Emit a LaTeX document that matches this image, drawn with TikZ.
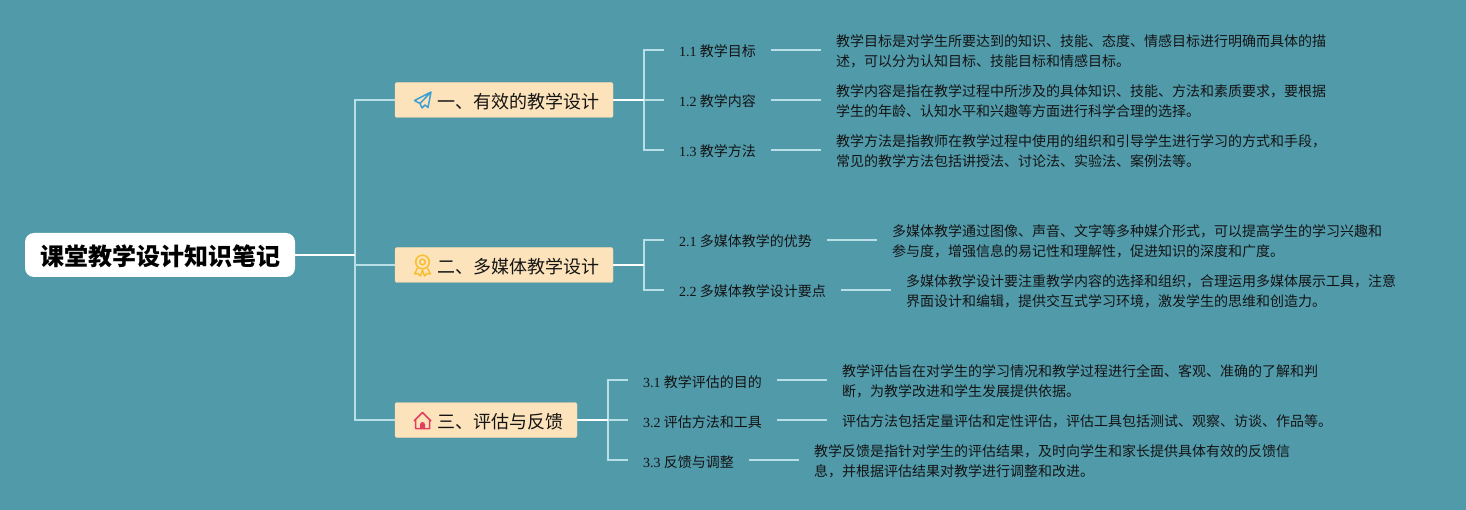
\documentclass[tikz,border=0pt]{standalone}
\usepackage{fontspec}
\setmainfont{Noto Sans CJK SC}
\newfontfamily\numfont{Liberation Serif}
\usepackage{xcolor}
\definecolor{bgteal}{HTML}{509AAA}
\definecolor{boxfill}{HTML}{FDE3BC}
\definecolor{boxedge}{HTML}{EFD3A6}
\definecolor{linelight}{HTML}{B9DFE6}
\definecolor{inktext}{HTML}{141414}
\definecolor{planeblue}{HTML}{3E9FD2}
\definecolor{medalgold}{HTML}{F6BE30}
\definecolor{homered}{HTML}{E0405F}
\tikzset{
	rootnode/.style={fill=white,rounded corners=9pt,minimum width=270pt,minimum height=44pt,inner sep=0pt,text height=27pt,text depth=5pt,font=\fontsize{24}{28}\selectfont\bfseries,text=black},
	topicnode/.style={fill=boxfill,draw=boxedge,rounded corners=1.5pt,minimum height=35pt,inner sep=0pt,text height=21pt,text depth=4pt,font=\fontsize{18}{22}\selectfont,text=inktext},
	labelnode/.style={anchor=west,inner xsep=15pt,inner ysep=0pt,text height=17pt,text depth=3pt,font=\fontsize{14}{20}\selectfont,text=inktext},
	notenode/.style={anchor=west,inner xsep=15pt,inner ysep=0pt,align=left,font=\fontsize{14}{20}\selectfont,text=inktext},
	branchline/.style={draw=linelight,line width=1.1pt},
	mainline/.style={draw=white,line width=1.4pt}
}
\begin{document}
\begin{tikzpicture}[x=1pt,y=-1pt]
	\fill[bgteal] (0,0) rectangle (1466,510);
	% root and topics
	\node[rootnode] (root) at (160,255) {课堂教学设计知识笔记};
	\node[topicnode,minimum width=218pt] (topica) at (504,100) {\hspace*{28pt}一、有效的教学设计};
	\node[topicnode,minimum width=218pt] (topicb) at (504,265) {\hspace*{28pt}二、多媒体教学设计};
	\node[topicnode,minimum width=182pt] (topicc) at (486,420) {\hspace*{28pt}三、评估与反馈};
	\coordinate (trunk) at (355,255);
	\coordinate (forka) at (644,100);
	\coordinate (forkb) at (644,265);
	\coordinate (forkc) at (608,420);
	% first group
	\node[labelnode] (la) at (664,50) {{\numfont 1.1} 教学目标};
	\node[labelnode] (lb) at (664,100) {{\numfont 1.2} 教学内容};
	\node[labelnode] (lc) at (664,150) {{\numfont 1.3} 教学方法};
	\node[notenode] (na) at (821,51.5) {教学目标是对学生所要达到的知识、技能、态度、情感目标进行明确而具体的描\\述，可以分为认知目标、技能目标和情感目标。};
	\node[notenode] (nb) at (821,101.5) {教学内容是指在教学过程中所涉及的具体知识、技能、方法和素质要求，要根据\\学生的年龄、认知水平和兴趣等方面进行科学合理的选择。};
	\node[notenode] (nc) at (821,151.5) {教学方法是指教师在教学过程中使用的组织和引导学生进行学习的方式和手段，\\常见的教学方法包括讲授法、讨论法、实验法、案例法等。};
	% second group
	\node[labelnode] (ld) at (664,240) {{\numfont 2.1} 多媒体教学的优势};
	\node[labelnode] (le) at (664,290) {{\numfont 2.2} 多媒体教学设计要点};
	\node[notenode] (nd) at (877,241.5) {多媒体教学通过图像、声音、文字等多种媒介形式，可以提高学生的学习兴趣和\\参与度，增强信息的易记性和理解性，促进知识的深度和广度。};
	\node[notenode] (ne) at (891,291.5) {多媒体教学设计要注重教学内容的选择和组织，合理运用多媒体展示工具，注意\\界面设计和编辑，提供交互式学习环境，激发学生的思维和创造力。};
	% third group
	\node[labelnode] (lf) at (628,380) {{\numfont 3.1} 教学评估的目的};
	\node[labelnode] (lg) at (628,420) {{\numfont 3.2} 评估方法和工具};
	\node[labelnode] (lh) at (628,460) {{\numfont 3.3} 反馈与调整};
	\node[notenode] (nf) at (827,381.5) {教学评估旨在对学生的学习情况和教学过程进行全面、客观、准确的了解和判\\断，为教学改进和学生发展提供依据。};
	\node[notenode] (ng) at (827,421.5) {评估方法包括定量评估和定性评估，评估工具包括测试、观察、访谈、作品等。};
	\node[notenode] (nh) at (799,461.5) {教学反馈是指针对学生的评估结果，及时向学生和家长提供具体有效的反馈信\\息，并根据评估结果对教学进行调整和改进。};
	% connectors
	\foreach \t in {topica,topicb,topicc} \draw[branchline] (trunk) |- (\t.west);
	\draw[mainline] (root.east) -- (trunk);
	\foreach \l in {la,lb,lc} \draw[branchline] (forka) |- (\l.west);
	\foreach \l in {ld,le} \draw[branchline] (forkb) |- (\l.west);
	\foreach \l in {lf,lg,lh} \draw[branchline] (forkc) |- (\l.west);
	\draw[mainline] (topica.east) -- (forka);
	\draw[mainline] (topicb.east) -- (forkb);
	\draw[mainline] (topicc.east) -- (forkc);
	\foreach \l/\n in {la/na,lb/nb,lc/nc,ld/nd,le/ne,lf/nf,lg/ng,lh/nh} \draw[branchline] (\l.east) -- (\l.east -| \n.west);
	% icons
	\draw[planeblue,line width=1.5pt,line join=round] (431,92) -- (414.5,100.5) -- (420,103.5) -- (422,108) -- (425,105) -- (428,107.5) -- cycle (431,92) -- (420,103.5);
	\draw[medalgold,line width=1.5pt] (422.5,262) circle (6.8pt) (422.5,262) circle (2.8pt);
	\draw[medalgold,line width=1.5pt,line join=round] (417.5,268) -- (414.5,274) -- (418,273.5) -- (420.5,276) -- (422.5,270) -- (424.5,276) -- (427,273.5) -- (430.5,274) -- (427.5,268);
	\draw[homered,line width=1.5pt,line join=round] (414,421) -- (422.5,412.5) -- (431,421) (415.5,420) -- (415.5,428.5) -- (429.5,428.5) -- (429.5,420);
	\fill[homered] (420,428.5) -- (420,424.5) arc[start angle=180,end angle=0,radius=2.5pt] -- (425,428.5) -- cycle;
\end{tikzpicture}
\end{document}
